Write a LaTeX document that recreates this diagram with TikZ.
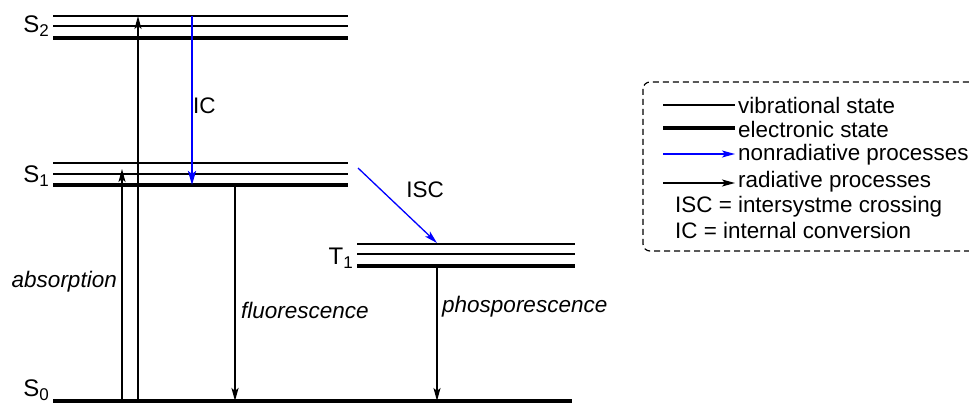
\documentclass[tikz,border=0pt]{standalone}
\usepackage{fontspec}
\setmainfont{Liberation Sans}
\usetikzlibrary{arrows.meta}
\begin{document}
\begin{tikzpicture}[x=1pt,y=-1pt,
  vib/.style={line width=1.3pt},
  ele/.style={line width=4.3pt},
  rad/.style={line width=1.3pt,-{Stealth[length=13pt,width=7pt,inset=3pt]}},
  radthick/.style={line width=2pt,-{Stealth[length=13pt,width=7pt,inset=3pt]}},
  nonrad/.style={blue,line width=1.3pt,-{Stealth[length=13pt,width=7pt,inset=3pt]}},
  nonradthick/.style={blue,line width=2.2pt,-{Stealth[length=14pt,width=8pt,inset=3pt]}},
  lbl/.style={font=\fontsize{22.5}{24}\selectfont,inner sep=0pt},
  lvl/.style={font=\fontsize{24}{26}\selectfont,inner sep=0pt,anchor=base east},
  leg/.style={font=\fontsize{22.4}{25}\selectfont,inner sep=0pt,anchor=west}]
\useasboundingbox (0,0) rectangle (969,403);
\clip (0,0) rectangle (969,403);
\newcommand{\subidx}[1]{\raisebox{-4pt}{\fontsize{17}{17}\selectfont #1}}
% S2
\draw[vib] (53,16) -- (348,16);
\draw[vib] (53,26) -- (348,26);
\draw[ele] (53,38) -- (348,38);
% S1
\draw[vib] (53,163) -- (348,163);
\draw[vib] (53,174) -- (348,174);
\draw[ele] (53,185) -- (348,185);
% T1
\draw[vib] (357,244) -- (575,244);
\draw[vib] (357,254) -- (575,254);
\draw[ele] (357,266) -- (575,266);
% S0
\draw[line width=3.2pt] (53,401) -- (572,401);
% level labels
\node[lvl] (lS2) at (49,33) {S\subidx{2}};
\node[lvl] (lS1) at (49,183) {S\subidx{1}};
\node[lvl] (lT1) at (353,265) {T\subidx{1}};
\node[lvl] (lS0) at (49,396) {S\subidx{0}};
% coordinates
\coordinate (a1b) at (138,401); \coordinate (a1t) at (138,16);
\coordinate (a2b) at (122,401); \coordinate (a2t) at (122,169);
\coordinate (ict) at (192,16); \coordinate (icb) at (192,185);
\coordinate (flt) at (235,185); \coordinate (flb) at (235,401);
\coordinate (isct) at (358,168); \coordinate (iscb) at (437,243);
\coordinate (pht) at (437,266); \coordinate (phb) at (437,401);
% arrows
\draw[rad] (a1b) -- (a1t);
\draw[rad] (a2b) -- (a2t);
\draw[nonradthick] (ict) -- (icb);
\draw[radthick] (flt) -- (flb);
\draw[nonrad] (isct) -- (iscb);
\draw[rad] (pht) -- (phb);
% process labels
\node[lbl,anchor=west] (tIC) at (193,106) {IC};
\node[lbl] (tISC) at (425,190) {ISC};
\node[lbl,anchor=east] (tabs) at (117,282) {\itshape absorption};
\node[lbl,anchor=west] (tfl) at (241,310) {\itshape fluorescence};
\node[lbl,anchor=west] (tph) at (442,307) {\itshape phosporescence};
% legend
\draw[dash pattern=on 6pt off 4pt,line width=1.2pt,rounded corners=7pt] (643,82) rectangle (985,251);
\coordinate (l1a) at (663,105); \coordinate (l1b) at (735,105);
\coordinate (l2a) at (663,128); \coordinate (l2b) at (735,128);
\coordinate (l3a) at (663,154); \coordinate (l3b) at (735,154);
\coordinate (l4a) at (663,183); \coordinate (l4b) at (735,183);
\draw[vib] (l1a) -- (l1b);
\draw[ele] (l2a) -- (l2b);
\draw[nonrad] (l3a) -- (l3b);
\draw[rad] (l4a) -- (l4b);
\node[leg] (g1) at (738,105) {vibrational state};
\node[leg] (g2) at (738,129) {electronic state};
\node[leg] (g3) at (738,155) {nonradiative processes};
\node[leg] (g4) at (738,182) {radiative processes};
\node[leg] (g5) at (675,207) {ISC = intersystme crossing};
\node[leg] (g6) at (675,230) {IC = internal conversion};
\end{tikzpicture}
\end{document}
